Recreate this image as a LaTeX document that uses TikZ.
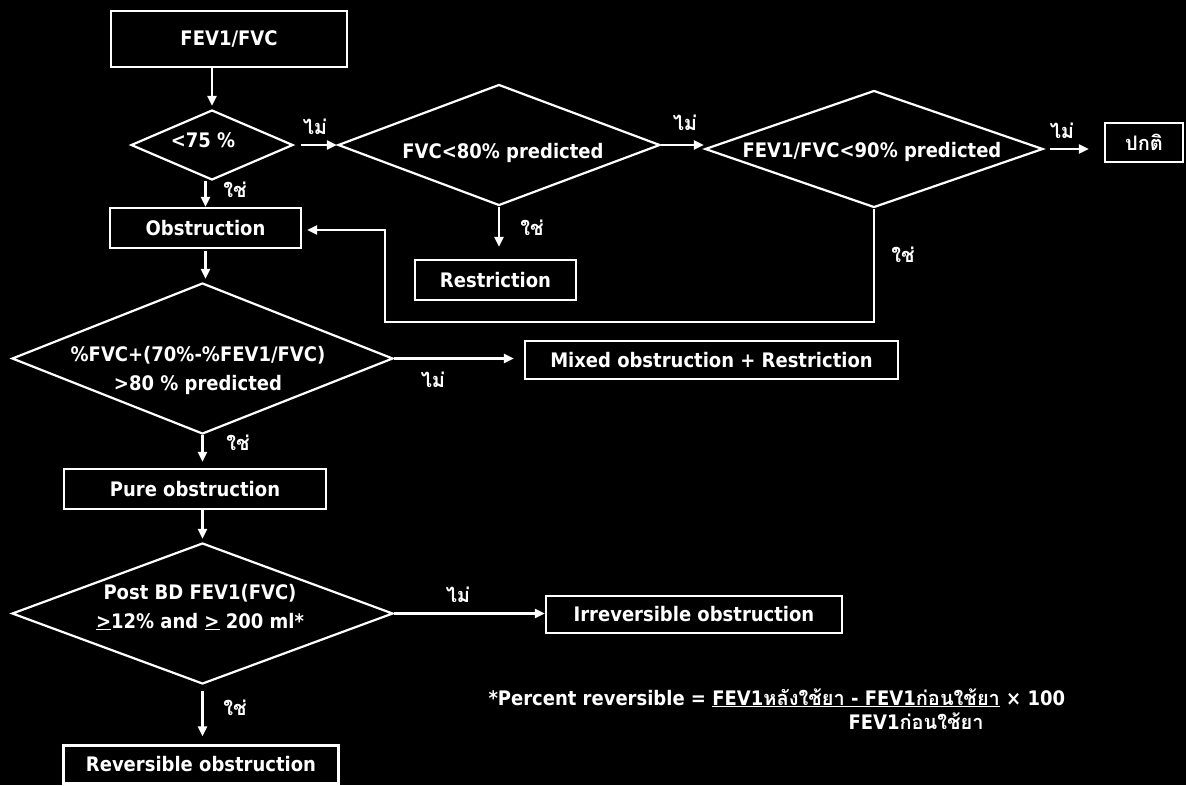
\documentclass[tikz,border=0pt]{standalone}
\usepackage{fontspec}
\setmainfont{DejaVu Sans Condensed}
\newfontfamily\thaifont[Script=Thai]{Loma}
\usetikzlibrary{shapes.geometric,arrows.meta}

\begin{document}
\begin{tikzpicture}[x=1pt,y=-1pt,
        every node/.style={text=white,font=\fontsize{20}{29}\selectfont\bfseries},
        box/.style={draw=white,line width=2.2pt,inner sep=0pt},
        decision/.style={diamond,draw=white,line width=2.2pt,inner sep=0pt},
        arr/.style={draw=white,line width=2.2pt,-{Triangle[length=10pt,width=9pt]}},
        yesno/.style={font=\thaifont\fontsize{20}{20}\selectfont\bfseries}]
    \useasboundingbox (0,0) rectangle (1186,785);
    \fill[black] (0,0) rectangle (1186,785);

    % boxes
    \node[box,minimum width=236pt,minimum height=56pt] (start) at (229,39) {FEV1/FVC};
    \node[box,minimum width=191pt,minimum height=40pt] (obstr) at (205.5,228) {Obstruction};
    \node[box,minimum width=161pt,minimum height=40pt] (restr) at (495.5,280) {Restriction};
    \node[box,minimum width=78pt,minimum height=39pt] (normal) at (1144,142.5) {\thaifont ปกติ};
    \node[box,minimum width=373pt,minimum height=38pt] (mixed) at (711.5,360) {Mixed obstruction + Restriction};
    \node[box,minimum width=262pt,minimum height=40pt] (pure) at (195,489) {Pure obstruction};
    \node[box,minimum width=296pt,minimum height=37pt] (irrev) at (694,614.5) {Irreversible obstruction};
    \node[box,minimum width=275pt,minimum height=38pt] (rev) at (201,764.5) {Reversible obstruction};

    % decisions
    \node[decision,minimum width=162pt,minimum height=70pt] (q75) at (212,145) {};
    \node[decision,minimum width=322pt,minimum height=121pt] (qfvc) at (499,145) {};
    \node[decision,minimum width=338pt,minimum height=117pt] (qratio) at (874,149) {};
    \node[decision,minimum width=381pt,minimum height=151pt] (qmixed) at (202.5,358.5) {};
    \node[decision,minimum width=381pt,minimum height=141pt] (qbd) at (202.5,613.5) {};

    \node[anchor=base] (q75-t) at (203,147) {<75 \%};
    \node[anchor=base] (qfvc-t) at (503,158) {FVC<80\% predicted};
    \node[anchor=base] (qratio-t) at (872,157) {FEV1/FVC<90\% predicted};
    \node[anchor=base,align=center] (qmixed-t) at (198,390) {\%FVC+(70\%-\%FEV1/FVC)\\>80 \% predicted};
    \node[anchor=base,align=center] (qbd-t) at (200,628) {Post BD FEV1(FVC)\\\underline{>}12\% and \underline{>} 200 ml*};

    % connectors
    \draw[arr,shorten >=3pt] (start.south -| q75) -- (q75.north);
    \draw[arr,shorten <=7pt] (q75.east) -- (q75.east -| qfvc.west);
    \draw[arr] (qfvc.east) -- (qfvc.east -| qratio.west);
    \draw[arr,shorten <=6pt,shorten >=15pt] (qratio.east) -- (qratio.east -| normal.west);
    \draw[arr] (q75.south -| obstr) -- (obstr.north);
    \draw[arr,shorten >=12pt] (qfvc.south) -- (qfvc.south |- restr.north);
    \coordinate (back) at (385,322);
    \draw[arr,shorten >=5pt] (qratio.south) |- (back) |- ([yshift=-2pt]obstr.east);
    \draw[arr,shorten <=2pt,shorten >=3pt] (obstr.south) -- (obstr.south |- qmixed.north);
    \draw[arr,shorten >=10pt] (qmixed.east) -- (qmixed.east -| mixed.west);
    \draw[arr,shorten >=6pt] (qmixed.south) -- (qmixed.south |- pure.north);
    \draw[arr,shorten >=3pt] (qbd.north |- pure.south) -- (qbd.north);
    \draw[arr] (qbd.east) -- (qbd.east -| irrev.west);
    \draw[arr,shorten <=6pt,shorten >=8pt] (qbd.south) -- (qbd.south |- rev.north);

    % yes / no labels
    \node[yesno] (no1) at (315,127) {ไม่};
    \node[yesno] (no2) at (685,123) {ไม่};
    \node[yesno] (no3) at (1062,131) {ไม่};
    \node[yesno] (yes1) at (235,190) {ใช่};
    \node[yesno] (yes2) at (532,228) {ใช่};
    \node[yesno] (yes3) at (903,255) {ใช่};
    \node[yesno] (no4) at (433,380) {ไม่};
    \node[yesno] (yes4) at (238,443) {ใช่};
    \node[yesno] (no5) at (458,595) {ไม่};
    \node[yesno] (yes5) at (235,708) {ใช่};

    % footnote
    \node[anchor=base west] (pct) at (485,705) {*Percent reversible = \underline{FEV1{\thaifont หลังใช้ยา} - FEV1{\thaifont ก่อนใช้ยา}} × 100};
    \node[anchor=base west] (pct-d) at (845,729) {FEV1{\thaifont ก่อนใช้ยา}};
\end{tikzpicture}
\end{document}
